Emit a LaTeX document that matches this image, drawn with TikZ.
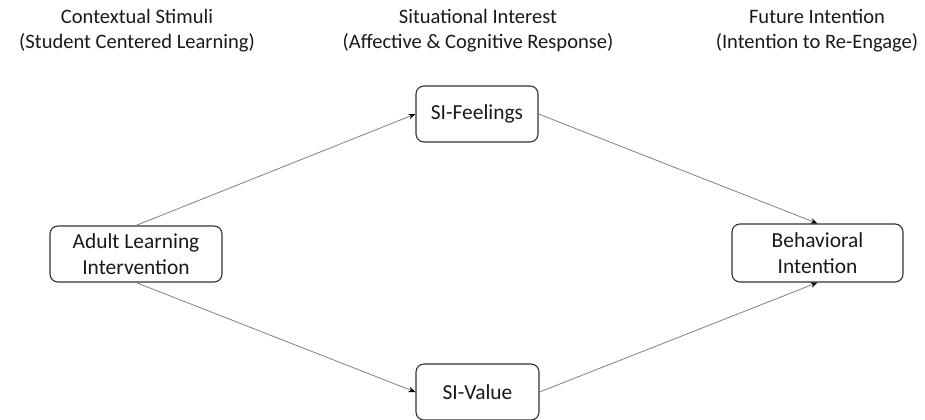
\documentclass[tikz,border=0pt]{standalone}
\usepackage{fontspec}
\setmainfont{Carlito}
\usetikzlibrary{arrows.meta}
\begin{document}
\begin{tikzpicture}[x=1bp,y=-1bp,
  every node/.style={text=black!90, align=center},
  head/.style={font=\fontsize{20.6}{25}\selectfont},
  box/.style={font=\fontsize{21.5}{26}\selectfont, draw=black!80, line width=1.1bp, rounded corners=8bp, inner sep=0pt},
  conn/.style={draw=black!50, line width=0.8bp, -{Stealth[length=7bp,width=5.5bp,black]}}]
\useasboundingbox (0,0) rectangle (925,419);
\node[head] (h1) at (137,31) {Contextual Stimuli\\(Student Centered Learning)};
\node[head] (h2) at (478,31) {Situational Interest\\(Affective \& Cognitive Response)};
\node[head] (h3) at (817,31) {Future Intention\\(Intention to Re-Engage)};
\node[box, minimum width=172bp, minimum height=56bp] (ali) at (136,254) {Adult Learning\\Intervention};
\node[box, minimum width=122bp, minimum height=56bp] (sif) at (477,114) {SI-Feelings};
\node[box, minimum width=123bp, minimum height=56bp] (siv) at (477.5,392) {SI-Value};
\node[box, minimum width=171bp, minimum height=58bp] (bi) at (817.5,253) {Behavioral\\Intention};
\draw[conn] (ali.north) -- (sif.west);
\draw[conn] (ali.south) -- (siv.west);
\draw[conn] (sif.east) -- (bi.north);
\draw[conn] (siv.east) -- (bi.south);
\end{tikzpicture}
\end{document}
